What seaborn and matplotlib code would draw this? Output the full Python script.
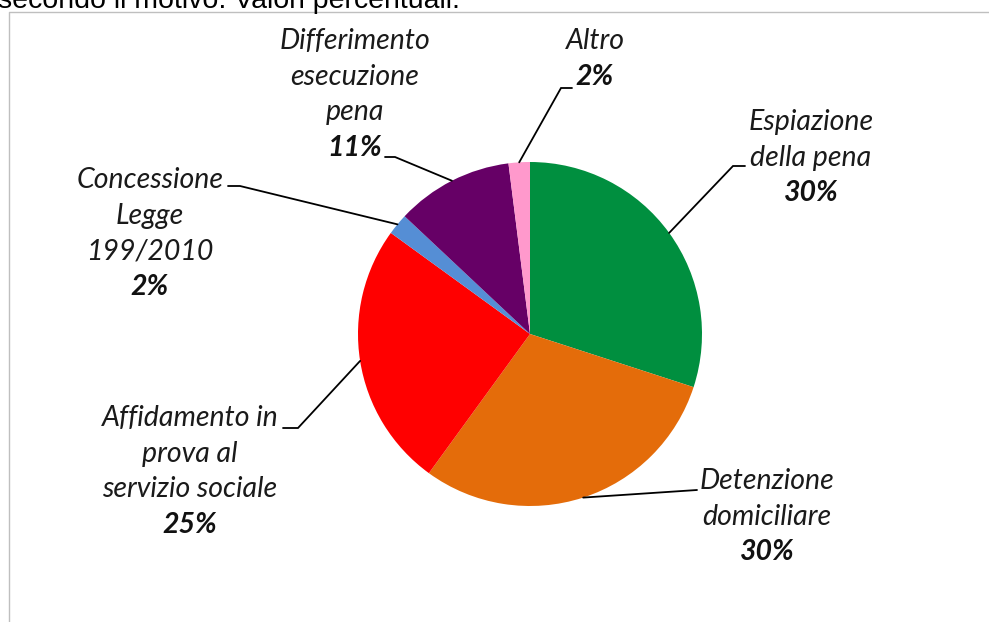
import numpy as np
import matplotlib
matplotlib.use("Agg")
import matplotlib.pyplot as plt
import seaborn as sns

# ─────────────────────────────────────────────────────────────────────────────
# Dati
# ─────────────────────────────────────────────────────────────────────────────
categorie = [
    "Espiazione della pena",
    "Detenzione domiciliare",
    "Affidamento in prova al servizio sociale",
    "Concessione Legge 199/2010",
    "Differimento esecuzione pena",
    "Altro",
]
valori = [30, 30, 25, 2, 11, 2]
righe_etichetta = [
    ["Espiazione", "della pena"],
    ["Detenzione", "domiciliare"],
    ["Affidamento in", "prova al", "servizio sociale"],
    ["Concessione", "Legge", "199/2010"],
    ["Differimento", "esecuzione", "pena"],
    ["Altro"],
]
colori = ["#008F3F", "#E46C0A", "#FF0000", "#558ED5", "#660066", "#FF99CC"]

# ─────────────────────────────────────────────────────────────────────────────
# Layout (coordinate in pixel, y dall'alto)
# ─────────────────────────────────────────────────────────────────────────────
W, H = 989, 622
centro = (530, 334)
raggio = 172
passo = 35.7

# centro x e y della prima riga di ogni etichetta
pos_testo = [(811, 122), (767, 481), (190, 418), (150, 180), (355, 41), (595, 41)]
# gomito e fine della linea guida
gomiti = [(733, 166), (697, 490), (298, 428), (240, 186), (395, 157), (561, 88)]
fini = [(745, 166), (697, 490), (283, 428), (228, 186), (385, 157), (572, 88)]


def py(y):
    return H - y


sns.set_theme(style="white")
plt.rcParams['font.family'] = ['Lato', 'DejaVu Sans']

fig = plt.figure(figsize=(W / 100, H / 100), dpi=100)
ax = fig.add_axes([0, 0, 1, 1])

wedges, _ = ax.pie(valori, colors=colori, startangle=90, counterclock=False,
                   center=(centro[0], py(centro[1])), radius=raggio,
                   wedgeprops=dict(linewidth=0))

ax.set_xlim(0, W)
ax.set_ylim(0, H)
ax.set_aspect('equal', adjustable='box')
ax.axis('off')

# linee guida ed etichette
for w, righe, val, (tx, ty), (gx, gy), (fx, fy) in zip(
        wedges, righe_etichetta, valori, pos_testo, gomiti, fini):
    ang = np.deg2rad((w.theta1 + w.theta2) / 2)
    sx = w.center[0] + raggio * np.cos(ang)
    sy = w.center[1] + raggio * np.sin(ang)
    ax.plot([sx, gx, fx], [sy, py(gy), py(fy)], color='black', lw=1.3,
            solid_joinstyle='miter')
    for i, r in enumerate(righe):
        ax.text(tx, py(ty + i * passo), r, ha='center', va='center',
                fontsize=20.5, style='italic', color='#1a1a1a')
    ax.text(tx, py(ty + len(righe) * passo), f"{val}%", ha='center', va='center',
            fontsize=20.5, style='italic', fontweight='bold', color='#111111')

# cornice del grafico
ax.plot([9, 9, W + 5], [py(H + 5), py(12), py(12)], color='#BFBFBF', lw=1)

# titolo tagliato in alto
fig.text(-2 / W, 1 - 8 / H, "secondo il motivo. Valori percentuali.",
         ha='left', va='baseline', fontsize=20.5, color='black',
         family=['Liberation Sans', 'DejaVu Sans'])

fig.savefig("out.png", dpi=100)
